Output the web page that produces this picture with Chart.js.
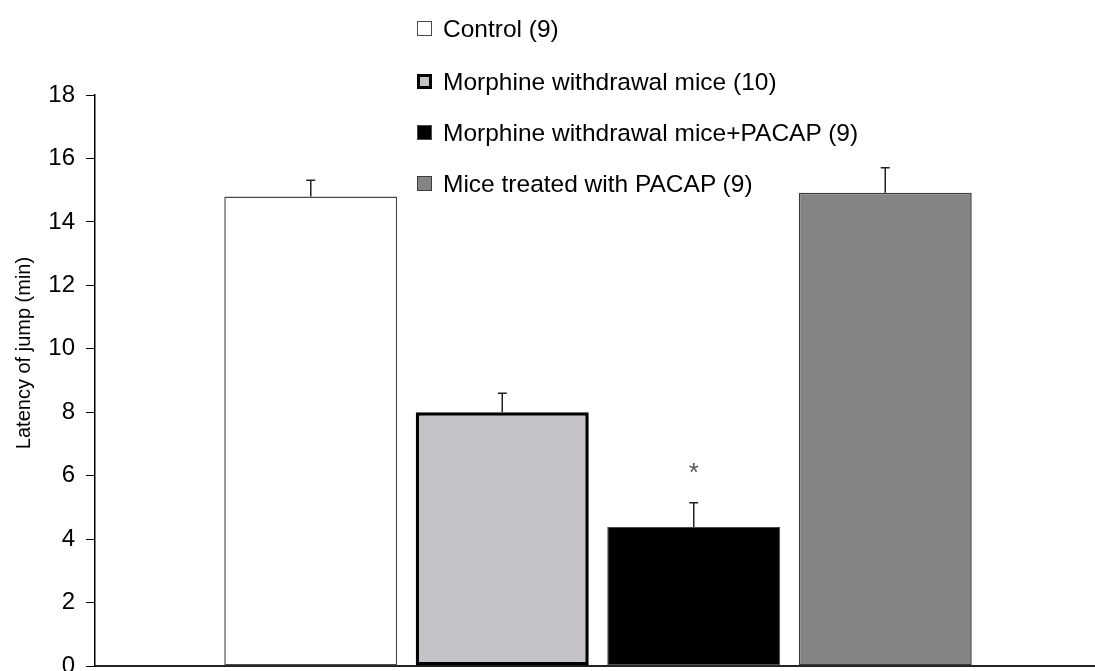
<!DOCTYPE html>
<html>
<head>
<meta charset="utf-8">
<script src="https://cdn.jsdelivr.net/npm/chart.js@4"></script>
<style>
  html, body { margin: 0; padding: 0; overflow: hidden; background: #ffffff; width: 1095px; height: 671px; }
  #wrap { position: absolute; left: 0; top: 0; width: 1101px; height: 700px; }
  #legend { position: absolute; left: 417px; top: 0; font-family: "Liberation Sans", Arial, sans-serif; font-size: 24.5px; color: #000; }
  .item { position: absolute; left: 0; white-space: nowrap; height: 30px; line-height: 30px; }
  .sw { position: absolute; left: 0; top: 7px; width: 15px; height: 15px; box-sizing: border-box; }
  .lbl { position: absolute; left: 26px; top: 0; }
</style>
</head>
<body>
<div id="wrap"><canvas id="c"></canvas></div>
<div id="legend"></div>
<script>
// ---- data ----
const categories = [''];
const seriesLabels = [
  'Control (9)',
  'Morphine withdrawal mice (10)',
  'Morphine withdrawal mice+PACAP (9)',
  'Mice treated with PACAP (9)'
];
const meanValues = [14.8, 8.0, 4.38, 14.92];
const semValues = [0.51, 0.6, 0.77, 0.79];
const sigMarks = ['', '', '*', ''];
const yTicks = [0, 2, 4, 6, 8, 10, 12, 14, 16, 18];
const yTitle = 'Latency of jump (min)';

// ---- styles ----
const fills = ['#ffffff', '#c5c3c7', '#000000', '#858386'];
const borders = ['#4a4a4a', '#000000', '#4a4a4a', '#3c3c3c'];
const borderWidths = [1.5, 3.5, 1, 1.5];
const FONT = '"Liberation Sans", Arial, sans-serif';

const datasets = seriesLabels.map((lab, i) => ({
  label: lab,
  data: [meanValues[i]],
  backgroundColor: fills[i],
  borderColor: borders[i],
  borderWidth: borderWidths[i],
  borderSkipped: false,
  categoryPercentage: 0.7614,
  barPercentage: 0.9034
}));

const errorBars = {
  id: 'errorBars',
  afterDatasetsDraw(chart) {
    const ctx = chart.ctx;
    const y = chart.scales.y;
    ctx.save();
    chart.data.datasets.forEach((ds, i) => {
      const bar = chart.getDatasetMeta(i).data[0];
      if (!bar) return;
      const top = y.getPixelForValue(meanValues[i] + semValues[i]);
      const base = bar.y;
      ctx.strokeStyle = '#222';
      ctx.lineWidth = 1.5;
      ctx.beginPath();
      ctx.moveTo(bar.x, base);
      ctx.lineTo(bar.x, top);
      ctx.moveTo(bar.x - 4.5, top);
      ctx.lineTo(bar.x + 4.5, top);
      ctx.stroke();
      if (sigMarks[i]) {
        ctx.fillStyle = '#555';
        ctx.font = '26px ' + FONT;
        ctx.textAlign = 'center';
        ctx.textBaseline = 'alphabetic';
        ctx.fillText(sigMarks[i], bar.x, top - 22);
      }
    });
    ctx.restore();
  }
};

const yTitlePlugin = {
  id: 'yTitlePlugin',
  afterDraw(chart) {
    const ctx = chart.ctx;
    ctx.save();
    ctx.translate(24, 353);
    ctx.rotate(-Math.PI / 2);
    ctx.fillStyle = '#000';
    ctx.font = '20px ' + FONT;
    ctx.textAlign = 'center';
    ctx.textBaseline = 'middle';
    ctx.fillText(yTitle, 0, 0);
    ctx.restore();
  }
};

const chart = new Chart(document.getElementById('c'), {
  type: 'bar',
  data: { labels: categories, datasets: datasets },
  options: {
    responsive: true,
    maintainAspectRatio: false,
    animation: false,
    layout: { padding: { top: 95, bottom: 34, left: 0, right: 0 } },
    plugins: { legend: { display: false }, tooltip: { enabled: false } },
    scales: {
      x: {
        display: true,
        ticks: { display: false },
        grid: { display: false, drawTicks: false },
        border: { display: true, color: '#222', width: 2 }
      },
      y: {
        min: 0,
        max: 18,
        afterBuildTicks(scale) { scale.ticks = yTicks.map(v => ({ value: v })); },
        afterFit(scale) { scale.width = 95; },
        ticks: { color: '#000', font: { family: FONT, size: 24 }, padding: 11 },
        grid: { display: true, drawOnChartArea: false, drawTicks: true, tickLength: 9, color: '#000', lineWidth: 1 },
        border: { display: true, color: '#000', width: 1.5 },
        title: { display: false, text: yTitle }
      }
    }
  },
  plugins: [errorBars, yTitlePlugin]
});

// HTML legend built from the chart datasets
const legend = document.getElementById('legend');
const rowTops = [14, 67, 118, 169];
chart.data.datasets.forEach((ds, i) => {
  const item = document.createElement('div');
  item.className = 'item';
  item.style.top = rowTops[i] + 'px';
  const sw = document.createElement('span');
  sw.className = 'sw';
  sw.style.background = ds.backgroundColor;
  sw.style.border = Math.min(ds.borderWidth, 3) + 'px solid ' + ds.borderColor;
  const t = document.createElement('span');
  t.className = 'lbl';
  t.textContent = ds.label;
  item.appendChild(sw);
  item.appendChild(t);
  legend.appendChild(item);
});
</script>
</body>
</html>
